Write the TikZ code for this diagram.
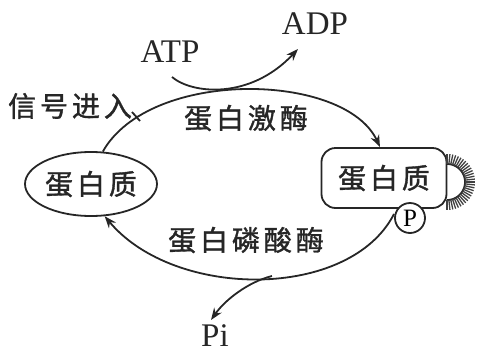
\documentclass[tikz,border=0pt]{standalone}
\usepackage{fontspec}
\setmainfont{Liberation Serif}
\newfontfamily\cjk[LetterSpace=14,FakeBold=1.3]{Noto Sans CJK SC}
\usetikzlibrary{arrows.meta,shapes.geometric,calc}
\begin{document}
\begin{tikzpicture}[x=1pt,y=-1pt,
  ln/.style={line width=1.8pt,draw=black!85},
  arr/.style={ln,-{Stealth[length=12pt,width=9pt]}},
  zh/.style={font=\cjk\fontsize{28}{30}\selectfont,text=black!85},
  en/.style={font=\fontsize{33}{35}\selectfont,text=black!85}]
\useasboundingbox (0,0) rectangle (483,354);
% nodes
\node[ellipse,ln,zh,minimum width=132pt,minimum height=64pt,inner sep=0pt] (L) at (91,184) {蛋白质};
\node[rectangle,rounded corners=14pt,ln,zh,minimum width=125pt,minimum height=60pt,inner sep=0pt] (R) at (384,178) {蛋白质};
\node[en] (ATP) at (170,52) {ATP};
\node[en] (ADP) at (315,24) {ADP};
\node[en] (Pi) at (215,336) {Pi};
\node[zh] (sig) at (70,106) {信号进入};
\node[zh] (kin) at (246,118) {蛋白激酶};
\node[zh] (pho) at (246,240) {蛋白磷酸酶};
% coordinates
\coordinate (sj) at (140,121);
\coordinate (atps) at (172,77);
\coordinate (adptip) at (298,49);
\coordinate (bs) at (394,214);
\coordinate (pj) at (272,276);
\coordinate (pitip) at (211,320);
\coordinate (sigend) at (132,112);
\coordinate (fc) at (447,182);
% main cycle
\draw[arr] (L.70) .. controls (150,68) and (345,72) .. ([xshift=-4pt]R.north);
\draw[arr] (bs) .. controls (350,300) and (175,300) .. (L.-67);
% ATP -> ADP
\draw[arr] (atps) .. controls (192,94) and (250,100) .. (adptip);
% Pi
\draw[arr] (pj) .. controls (248,282) and (225,300) .. (pitip);
% signal
\draw[ln] (sigend) -- (sj);
% fuzzy semicircle
\draw[ln] plot[domain=-90:90,samples=40] ({447+18*cos(\x)},{182+18*sin(\x)});
\foreach \a in {-90,-84,...,90}{
  \draw[line width=1.3pt,draw=black!75] ($(fc)+({18*cos(\a)},{18*sin(\a)})$) -- ($(fc)+({28*cos(\a)},{28*sin(\a)})$);
}
% phosphate
\node[circle,ln,fill=white,minimum size=30pt,inner sep=0pt,font=\fontsize{25}{25}\selectfont] (P) at (410,218) {P};
\end{tikzpicture}
\end{document}
